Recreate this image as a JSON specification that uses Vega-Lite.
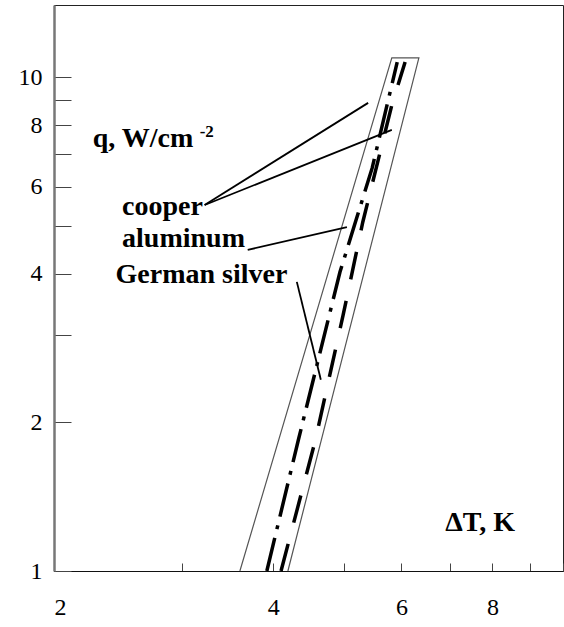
{
  "$schema": "https://vega.github.io/schema/vega-lite/v6.json",
  "autosize": "none",
  "width": 509,
  "height": 566,
  "padding": {"left": 54, "top": 5, "right": 1, "bottom": 56},
  "background": "white",
  "config": {
    "view": {"stroke": "#222", "strokeWidth": 1},
    "axis": {"grid": false, "title": null, "labelFont": "Liberation Serif", "labelColor": "black", "labelOverlap": false, "domainColor": "#111", "tickColor": "#444"}
  },
  "datasets": {
    "bound": [
      {"dT": 3.60, "q": 1.0, "ord": 1},
      {"dT": 5.82, "q": 10.94, "ord": 2},
      {"dT": 6.34, "q": 10.94, "ord": 3},
      {"dT": 4.19, "q": 1.0, "ord": 4}
    ],
    "dashdot": [
      {"dT": 3.92, "q": 1.0},
      {"dT": 4.33, "q": 1.84},
      {"dT": 4.94, "q": 4.03},
      {"dT": 5.47, "q": 6.55},
      {"dT": 5.92, "q": 10.73}
    ],
    "longdash": [
      {"dT": 4.10, "q": 1.0},
      {"dT": 4.57, "q": 1.84},
      {"dT": 4.99, "q": 3.30},
      {"dT": 5.31, "q": 5.09},
      {"dT": 5.82, "q": 8.78},
      {"dT": 6.07, "q": 10.73}
    ],
    "leaders": [
      {"x": 3.22, "y": 5.51, "x2": 5.40, "y2": 8.87},
      {"x": 3.22, "y": 5.51, "x2": 5.82, "y2": 7.82},
      {"x": 3.69, "y": 4.47, "x2": 5.05, "y2": 4.97},
      {"x": 4.31, "y": 3.85, "x2": 4.65, "y2": 2.44}
    ],
    "texts": [
      {"x": 2.26, "y": 7.22, "t": "q, W/cm"},
      {"x": 2.48, "y": 5.26, "t": "cooper"},
      {"x": 2.48, "y": 4.53, "t": "aluminum"},
      {"x": 2.43, "y": 3.83, "t": "German silver"},
      {"x": 6.89, "y": 1.205, "t": "ΔT, K"}
    ],
    "sup": [
      {"x": 3.17, "y": 7.56, "t": "-2"}
    ]
  },
  "layer": [
    {
      "data": {"name": "bound"},
      "mark": {"type": "line", "color": "#555", "strokeWidth": 1.2},
      "encoding": {
        "x": {"field": "dT", "type": "quantitative", "scale": {"type": "log", "domain": [2, 10], "nice": false},
          "axis": {"values": [2, 3, 4, 5, 6, 7, 8, 9, 10], "format": "d", "labelExpr": "indexof([2,4,6,8], datum.value) >= 0 ? datum.label : ''", "tickSize": -8, "labelPadding": 32, "labelFontSize": 24, "labelFlush": true, "domainWidth": 1}},
        "y": {"field": "q", "type": "quantitative", "scale": {"type": "log", "domain": [1, 14], "nice": false},
          "axis": {"values": [1, 2, 3, 4, 5, 6, 7, 8, 9, 10], "format": "d", "labelExpr": "indexof([1,2,4,6,8,10], datum.value) >= 0 ? datum.label : ''", "tickSize": -17, "labelPadding": 29, "labelFontSize": 24, "labelFlush": false, "domainColor": "#777", "domainWidth": 2.5}},
        "order": {"field": "ord", "type": "quantitative"}
      }
    },
    {
      "data": {"name": "dashdot"},
      "mark": {"type": "line", "color": "black", "strokeWidth": 3.5, "strokeDash": [34, 9, 4, 9]},
      "encoding": {
        "x": {"field": "dT", "type": "quantitative"},
        "y": {"field": "q", "type": "quantitative"}
      }
    },
    {
      "data": {"name": "longdash"},
      "mark": {"type": "line", "color": "black", "strokeWidth": 3.5, "strokeDash": [28, 22]},
      "encoding": {
        "x": {"field": "dT", "type": "quantitative"},
        "y": {"field": "q", "type": "quantitative"}
      }
    },
    {
      "data": {"name": "leaders"},
      "mark": {"type": "rule", "color": "black", "strokeWidth": 1.8},
      "encoding": {
        "x": {"field": "x", "type": "quantitative"},
        "y": {"field": "y", "type": "quantitative"},
        "x2": {"field": "x2"},
        "y2": {"field": "y2"}
      }
    },
    {
      "data": {"name": "texts"},
      "mark": {"type": "text", "font": "Liberation Serif", "fontWeight": "bold", "fontSize": 28, "align": "left", "baseline": "alphabetic", "color": "black"},
      "encoding": {
        "x": {"field": "x", "type": "quantitative"},
        "y": {"field": "y", "type": "quantitative"},
        "text": {"field": "t"}
      }
    },
    {
      "data": {"name": "sup"},
      "mark": {"type": "text", "font": "Liberation Serif", "fontWeight": "bold", "fontSize": 17, "align": "left", "baseline": "alphabetic", "color": "black"},
      "encoding": {
        "x": {"field": "x", "type": "quantitative"},
        "y": {"field": "y", "type": "quantitative"},
        "text": {"field": "t"}
      }
    }
  ]
}
